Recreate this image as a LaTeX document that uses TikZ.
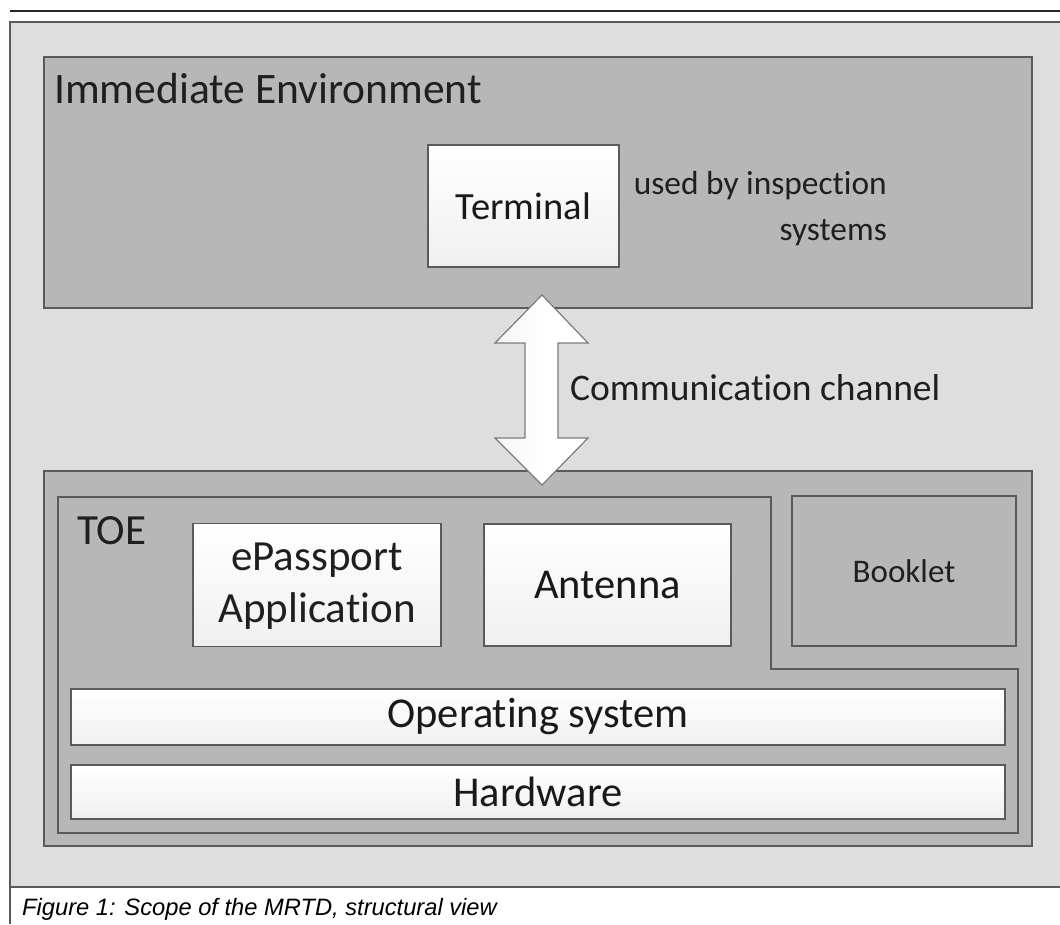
\documentclass[tikz,border=0pt]{standalone}
\usepackage{fontspec}
\setmainfont{Carlito}[Ligatures=NoCommon]
\newfontfamily\captionfont{Liberation Sans}
\definecolor{framefill}{HTML}{DEDEDE}
\definecolor{boxfill}{HTML}{B7B7B7}
\definecolor{edge}{HTML}{5A5A5A}
\newcommand{\fsz}[1]{\fontsize{#1}{1.2\dimexpr #1pt\relax}\selectfont}
% keep "t" and "i" as separate glyphs
\newcommand{\tI}{t\kern0pt i}
\tikzset{
  x=1pt, y=-1pt,
  region/.style={draw=edge, line width=1.6pt, fill=boxfill},
  whitebox/.style={draw=edge, line width=1.6pt, top color=white, bottom color=black!6,
    inner sep=0pt, align=center, text=black!90},
  label/.style={inner sep=0pt, text=black!88},
}
\begin{document}
\begin{tikzpicture}
\useasboundingbox (0,0) rectangle (1060,924);
% page frame and light background panel
\fill[framefill] (10,22) rectangle (1060,887);
\draw[black!85, line width=1.2pt] (10,11) -- (1060,11);
\draw[edge, line width=1.4pt] (1060,22) -- (10,22) -- (10,887) -- (1060,887);
\draw[edge, line width=1.2pt] (10,887) -- (10,924);

% immediate environment
\draw[region] (44,57) rectangle (1032,308);
\node[label, anchor=base west, font=\fsz{43.5}] (envlbl) at (54,103) {Immediate Environment};
\node[whitebox, minimum width=191pt, minimum height=122pt, font=\fsz{38.5}] (term) at (523.5,206) {Terminal};
\node[label, anchor=base east, font=\fsz{33.4}] (used) at (887,194) {used by inspec\tI on};
\node[label, anchor=base east, font=\fsz{33.4}] (sys) at (887,240) {systems};

% TOE outer region
\draw[region] (44,471) rectangle (1032,846);
\draw[region] (58,497) -- (771,497) -- (771,669) -- (1018,669) -- (1018,833) -- (58,833) -- cycle;
\node[label, anchor=base west, font=\fsz{43}] (toe) at (77,544) {TOE};
\node[whitebox, minimum width=248pt, minimum height=123pt] (app) at (317,585) {};
\node[label, anchor=base, font=\fsz{43}] (applbl1) at (app.center |- 0,570) {ePassport};
\node[label, anchor=base, font=\fsz{43}] (applbl2) at (app.center |- 0,622) {Applica\tI on};
\node[whitebox, minimum width=247pt, minimum height=122pt, font=\fsz{42.5}] (ant) at (607.5,585) {Antenna};
\draw[region] (792,496) rectangle (1016,646);
\node[label, font=\fsz{33}] (book) at (904,571) {Booklet};
\node[whitebox, minimum width=934pt, minimum height=56pt, font=\fsz{42.5}] (os) at (538,717) {Opera\tI ng system};
\node[whitebox, minimum width=934pt, minimum height=54pt, font=\fsz{42.5}] (hw) at (538,792) {Hardware};

% communication channel: double block arrow
\coordinate (tipA) at (542,295);
\coordinate (tipB) at (542,485);
\draw[draw=edge!80, line width=1.2pt, left color=black!4, right color=white, middle color=white]
  (tipA) -- (588,343) -- (558,343) -- (558,438) -- (588,438) -- (tipB)
  -- (495,438) -- (525,438) -- (525,343) -- (495,343) -- cycle;
\node[label, anchor=base west, font=\fsz{37.5}] (comm) at (570,400) {Communica\tI on channel};

% caption
\node[anchor=base west, inner sep=0pt, font={\captionfont\itshape\fsz{23.7}}] (cap) at (22,915) {Figure 1: Scope of the MRTD, structural view};
\end{tikzpicture}
\end{document}
